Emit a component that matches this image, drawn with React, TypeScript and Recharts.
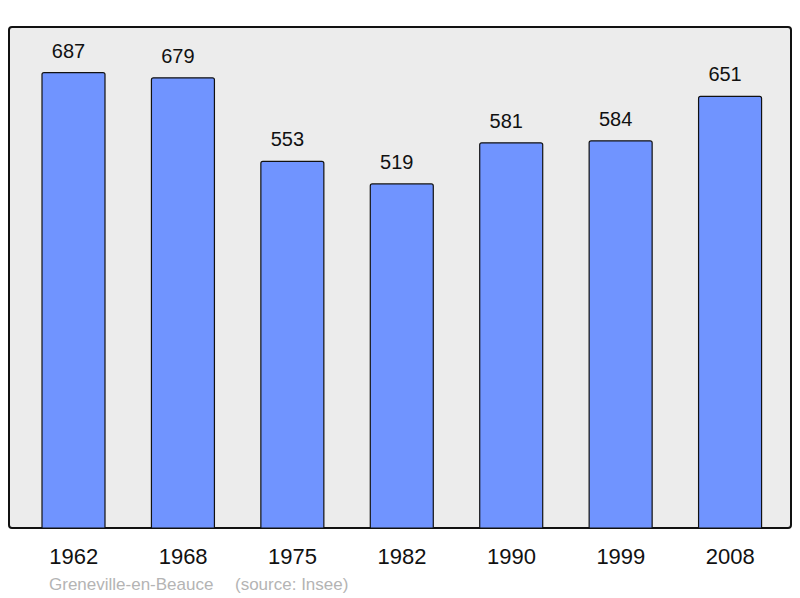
import React from 'react'
import { BarChart, Bar, XAxis, YAxis, LabelList } from 'recharts'

const years = ['1962', '1968', '1975', '1982', '1990', '1999', '2008']
const population = [687, 679, 553, 519, 581, 584, 651]

const data = years.map((year, i) => ({ year, value: population[i] }))

const FONT = '"Liberation Sans", Arial, sans-serif'

export default function App() {
  return (
    <div style={{ position: 'absolute', left: 0, top: 0, width: 800, height: 598, background: '#fff', fontFamily: FONT }}>
      {/* plot frame */}
      <div
        style={{
          position: 'absolute',
          left: 8,
          top: 26,
          width: 780,
          height: 499,
          background: '#ececec',
          border: '2px solid #111',
          borderRadius: 4,
        }}
      />
      <div style={{ position: 'absolute', left: 0, top: 0 }}>
        <BarChart
          width={800}
          height={598}
          data={data}
          margin={{ top: 27, right: 15, bottom: 10, left: 19 }}
        >
          <XAxis
            dataKey="year"
            axisLine={false}
            tickLine={false}
            tickSize={0}
            tickMargin={20}
            height={60}
            interval={0}
            tick={{ fill: '#111', fontSize: 22, fontFamily: FONT }}
          />
          <YAxis hide domain={[0, 755.7]} />
          <Bar
            dataKey="value"
            barSize={63}
            fill="#7094ff"
            stroke="#111"
            strokeWidth={1.2}
            radius={[2, 2, 0, 0]}
            isAnimationActive={false}
          >
            <LabelList
              dataKey="value"
              position="top"
              offset={15}
              dx={-5}
              fill="#111"
              fontSize={20}
              fontFamily={FONT}
            />
          </Bar>
        </BarChart>
      </div>
      <div style={{ position: 'absolute', left: 49, top: 575, fontSize: 17, color: '#b4b4b4', whiteSpace: 'nowrap' }}>
        Greneville-en-Beauce
      </div>
      <div style={{ position: 'absolute', left: 235, top: 575, fontSize: 17, color: '#b4b4b4', whiteSpace: 'nowrap' }}>
        (source: Insee)
      </div>
    </div>
  )
}
